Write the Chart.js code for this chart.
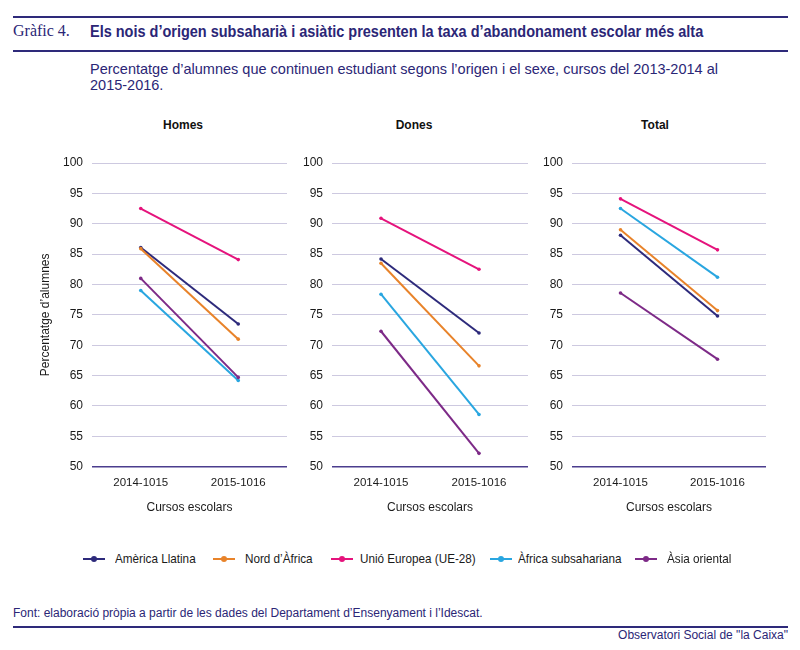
<!DOCTYPE html>
<html><head><meta charset="utf-8">
<script src="https://cdn.jsdelivr.net/npm/chart.js@4"></script>
<style>
html,body{margin:0;padding:0;background:#fff;}
body{width:800px;height:650px;position:relative;overflow:hidden;font-family:"Liberation Sans",Arial,sans-serif;color:#2b2676;}
.abs{position:absolute;white-space:nowrap;}
.rule{position:absolute;left:13px;width:775px;height:2px;background:#2e2a7a;}
canvas{position:absolute;}
.mk{position:absolute;top:558px;width:22px;height:2px;}
.mk i{position:absolute;left:8px;top:-2px;width:6px;height:6px;border-radius:50%;background:inherit;}
.lt{position:absolute;top:551px;line-height:16px;font-size:13px;color:#1a1a1a;white-space:nowrap;transform:scaleX(0.9);transform-origin:0 50%;}
</style></head>
<body>
<div class="rule" style="top:16px"></div>
<div class="abs" style="left:13px;top:22px;font-family:'Liberation Serif','DejaVu Serif',serif;font-size:16px;">Gràfic 4.</div>
<div class="abs" id="ttl" style="left:90px;top:23px;font-weight:bold;font-size:16px;transform:scaleX(0.905);transform-origin:0 50%;">Els nois d’origen subsaharià i asiàtic presenten la taxa d’abandonament escolar més alta</div>
<div class="rule" style="top:50px"></div>
<div class="abs" style="left:90px;top:61px;font-size:14.5px;line-height:16px;">Percentatge d’alumnes que continuen estudiant segons l’origen i el sexe, cursos del 2013-2014 al<br>2015-2016.</div>

<div class="abs" style="left:163px;top:118px;font-size:12px;font-weight:bold;color:#111;width:40px;text-align:center;">Homes</div>
<div class="abs" style="left:394px;top:118px;font-size:12px;font-weight:bold;color:#111;width:40px;text-align:center;">Dones</div>
<div class="abs" style="left:635px;top:118px;font-size:12px;font-weight:bold;color:#111;width:40px;text-align:center;">Total</div>

<canvas id="c1" style="left:30px;top:140px;width:262px;height:380px" width="262" height="380"></canvas>
<canvas id="c2" style="left:292px;top:140px;width:241px;height:380px" width="241" height="380"></canvas>
<canvas id="c3" style="left:532px;top:140px;width:239px;height:380px" width="239" height="380"></canvas>

<div id="legend"></div>

<div class="abs" style="left:13px;top:606px;font-size:12px;">Font: elaboració pròpia a partir de les dades del Departament d’Ensenyament i l’Idescat.</div>
<div class="rule" style="top:626px"></div>
<div class="abs" style="right:12px;top:628px;font-size:12px;">Observatori Social de "la Caixa"</div>

<script>
const categories = ['2014-1015', '2015-1016'];
const seriesNames = ['Amèrica Llatina', 'Nord d’Àfrica', 'Unió Europea (UE-28)', 'Àfrica subsahariana', 'Àsia oriental'];
const seriesColors = ['#2d2a7b', '#e8832a', '#e5137c', '#29a6e0', '#7d2a87'];

const homesAmericaLlatina = [86.1, 73.5];
const homesNordAfrica = [85.9, 71.0];
const homesUE = [92.5, 84.1];
const homesSubsahariana = [79.0, 64.2];
const homesAsiaOriental = [81.0, 64.7];

const donesAmericaLlatina = [84.2, 72.0];
const donesNordAfrica = [83.5, 66.6];
const donesUE = [90.9, 82.5];
const donesSubsahariana = [78.4, 58.6];
const donesAsiaOriental = [72.3, 52.2];

const totalAmericaLlatina = [88.1, 74.8];
const totalNordAfrica = [89.0, 75.7];
const totalUE = [94.1, 85.7];
const totalSubsahariana = [92.5, 81.2];
const totalAsiaOriental = [78.6, 67.7];

const yTicks = [50, 55, 60, 65, 70, 75, 80, 85, 90, 95, 100];

const FONT = "'Liberation Sans', Arial, sans-serif";

function makeChart(id, seriesData, yWidth, showYTitle) {
  const datasets = seriesData.map((d, i) => ({
    label: seriesNames[i],
    data: d,
    borderColor: seriesColors[i],
    backgroundColor: seriesColors[i],
    borderWidth: 2,
    pointRadius: 1.8,
    pointHoverRadius: 1.8,
    pointBorderWidth: 0,
    tension: 0
  }));
  return new Chart(document.getElementById(id), {
    type: 'line',
    data: { labels: categories, datasets: datasets.slice().reverse() },
    options: {
      responsive: false,
      animation: false,
      events: [],
      layout: { padding: { top: 23, right: 5, left: 0, bottom: 0 } },
      plugins: { legend: { display: false }, tooltip: { enabled: false } },
      scales: {
        x: {
          type: 'category',
          offset: true,
          grid: { display: false, drawTicks: false },
          border: { display: false },
          ticks: { color: '#1a1a1a', font: { family: FONT, size: 11.5 }, padding: 9, maxRotation: 0 },
          title: { display: true, text: 'Cursos escolars', color: '#1a1a1a', font: { family: FONT, size: 12 }, padding: { top: 6, bottom: 5 } },
          afterFit: s => { s.height = 53.3; }
        },
        y: {
          min: 50, max: 100,
          afterBuildTicks: s => { s.ticks = yTicks.map(v => ({ value: v })); },
          grid: {
            drawTicks: false,
            color: c => c.tick && c.tick.value === 50 ? '#4b3d8e' : '#cdc9e0',
            lineWidth: c => c.tick && c.tick.value === 50 ? 1.6 : 1
          },
          border: { display: false },
          ticks: { color: '#1a1a1a', font: { family: FONT, size: 12 }, padding: 9 },
          title: { display: showYTitle, text: 'Percentatge d’alumnes', color: '#1a1a1a', font: { family: FONT, size: 12 }, padding: { top: 8, bottom: 4 } },
          afterFit: s => { s.width = yWidth; }
        }
      }
    }
  });
}

makeChart('c1', [homesAmericaLlatina, homesNordAfrica, homesUE, homesSubsahariana, homesAsiaOriental], 62, true);
makeChart('c2', [donesAmericaLlatina, donesNordAfrica, donesUE, donesSubsahariana, donesAsiaOriental], 40, false);
makeChart('c3', [totalAmericaLlatina, totalNordAfrica, totalUE, totalSubsahariana, totalAsiaOriental], 40, false);

// Legend
const markerX = [83, 213, 331, 490, 635];
const textX = [115, 245, 360, 518, 667];
const leg = document.getElementById('legend');
seriesNames.forEach((n, i) => {
  const mk = document.createElement('span');
  mk.className = 'mk';
  mk.style.left = markerX[i] + 'px';
  mk.style.background = seriesColors[i];
  mk.innerHTML = '<i></i>';
  leg.appendChild(mk);
  const t = document.createElement('span');
  t.className = 'lt';
  t.style.left = textX[i] + 'px';
  t.textContent = n;
  leg.appendChild(t);
});
</script>
</body></html>
